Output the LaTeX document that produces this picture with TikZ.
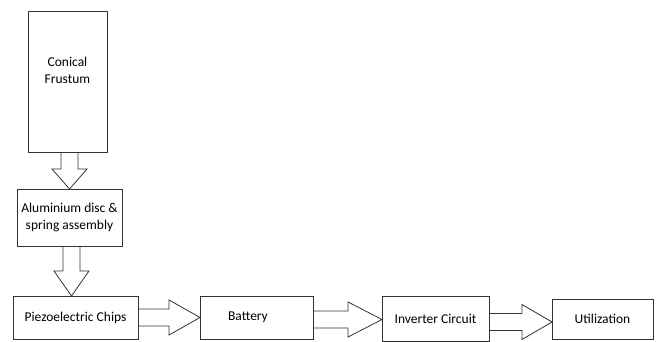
\documentclass[tikz,border=0pt]{standalone}
\usepackage{fontspec}
\setmainfont{Carlito}
\usetikzlibrary{calc}
\newcommand\shafthw[0]{8.5pt}
\newcommand\headhw[0]{17.5pt}
\newcommand\blockarrow[3][20pt]{%
  \coordinate (ba-s) at (#2);
  \coordinate (ba-e) at (#3);
  \coordinate (ba-h) at ($(ba-e)!#1!(ba-s)$);
  \draw[flowarrow] ($(ba-s)!\shafthw!90:(ba-e)$) -- ($(ba-h)!\shafthw!90:(ba-e)$)
    -- ($(ba-h)!\headhw!90:(ba-e)$) -- (ba-e) -- ($(ba-h)!\headhw!-90:(ba-e)$)
    -- ($(ba-h)!\shafthw!-90:(ba-e)$) -- ($(ba-s)!\shafthw!-90:(ba-e)$);}

\begin{document}
\begin{tikzpicture} [x=1pt,y=-1pt,
  box/.style={draw=black!80,line width=0.8pt,inner sep=2pt,outer sep=0pt,align=center,
    font=\fontsize{13.5pt}{16.5pt}\selectfont},
  flowarrow/.style={draw=black!80,line width=0.8pt}]

\useasboundingbox (0,0) rectangle (656,342);

\node[box,minimum width=79pt,minimum height=141pt,text depth=22pt] (frustum) at (67.5,81.5) {Conical\\Frustum};
\node[box,minimum width=105pt,minimum height=57pt] (alu) at (69.5,217.5) {Aluminium disc \&\\spring assembly};
\node[box,minimum width=125pt,minimum height=43pt] (piezo) at (75.5,317.5) {Piezoelectric Chips};
\node[box,minimum width=113pt,minimum height=43pt] (battery) at (256.5,317.5) {Battery\hspace{17pt}};
\node[box,minimum width=107pt,minimum height=45pt] (inverter) at (435.5,318.5) {Inverter Circuit};
\node[box,minimum width=101pt,minimum height=40pt] (util) at (602.5,319) {Utilization};

\blockarrow{alu.north |- frustum.south}{alu.north}
\blockarrow[25pt]{[xshift=2pt]alu.south}{[xshift=2pt]alu.south |- piezo.north}
\blockarrow[31pt]{piezo.east |- battery.west}{battery.west}
\blockarrow[34pt]{[yshift=-1pt]battery.east |- inverter.west}{[yshift=-1pt]inverter.west}
\blockarrow[30pt]{[yshift=-3pt]inverter.east |- util.west}{[yshift=-3pt]util.west}

\end{tikzpicture}
\end{document}
